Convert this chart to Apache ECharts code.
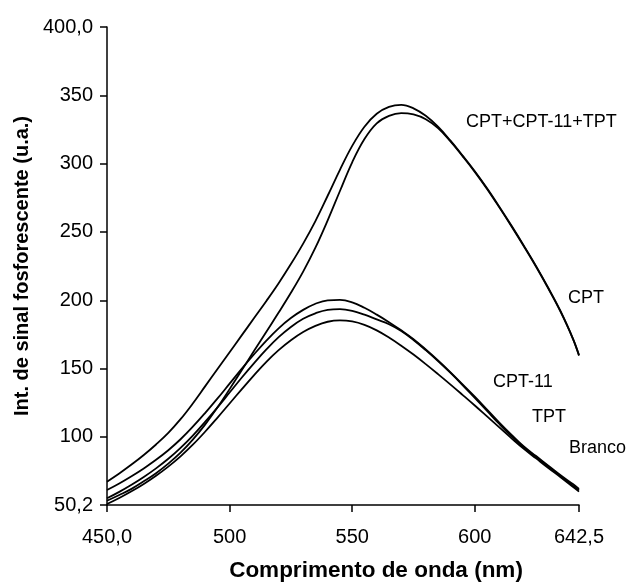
<!DOCTYPE html>
<html><head><meta charset="utf-8">
<script src="https://cdn.jsdelivr.net/npm/echarts@6/dist/echarts.min.js"></script>
<style>html,body{margin:0;padding:0;background:#fff}#c{width:627px;height:584px}</style>
</head><body><div id="c"></div>
<script>
const wavelengths = [450,455,460,465,470,475,480,485,490,495,500,505,510,515,520,525,530,535,540,545,550,555,560,565,570,575,580,585,590,595,600,605,610,615,620,625,630,635,640,642.5];
const cptMix = [67.3,73.3,79.8,86.8,94.5,103,113,124.5,137,149.5,162,174.5,187,199.5,212.5,226.5,241.5,258,276.5,295.5,313,327,336.5,341.5,343,340.5,335,327,317,306,294.5,282,268.5,254.5,240,225,209,192,172,160];
const cpt = [53.3,57.5,62,67.5,73.5,80.5,88.5,98,109,121.5,135,149,163,177,191,205.5,221,238.5,258.5,280,301,318,329.5,335,337,336,332.5,326,316.5,305.5,294,281.5,268,254,239.5,224.5,208.5,191.5,172,159.5];
const cpt11 = [61.2,66,71.3,77,83.3,90.3,98.3,107.5,117.5,128,139,150,160.5,170.5,179.5,187,193,197.5,200,200.3,198.5,194.5,189.5,184,178,171.5,164,156,147.5,138.5,129.5,120,110.5,101.5,93,86,79,72,65.5,62];
const tpt = [55.1,59.8,65,70.7,77,84,92,101,111,121.5,132.5,143.5,154,164,173,180.5,186.5,190.5,193,193.5,192.3,189.5,186,182.5,177.5,171,163.5,155.5,147,138,128.5,119,109.5,100.5,92.3,85.3,78.3,71.3,64.3,61];
const branco = [50.9,55.3,60.2,65.6,71.6,78.3,85.8,94.3,103.8,114,124.5,135,145.3,155,163.5,170.8,176.8,181.3,184.3,185.3,184.5,182,178,172.8,166.8,160.3,153.3,146,138.5,130.8,123,115,107,99,91.3,84.3,77.3,70.5,63.5,60];
const seriesNames = ['CPT+CPT-11+TPT','CPT','CPT-11','TPT','Branco'];
const xTickValues = [450,500,550,600,642.5];
const xTickLabels = ['450,0','500','550','600','642,5'];
const yTickValues = [50.2,100,150,200,250,300,350,400];
const yTickLabels = ['50,2','100','150','200','250','300','350','400,0'];
const xTitle = 'Comprimento de onda (nm)';
const yTitle = 'Int. de sinal fosforescente (u.a.)';

const FONT = "'Liberation Sans', Arial, sans-serif";
const chart = echarts.init(document.getElementById('c'), null, {renderer:'canvas'});
const allSeries = [cptMix, cpt, cpt11, tpt, branco];
const annotations = [
  {text: seriesNames[0], left: 466, top: 113},
  {text: seriesNames[1], left: 568, top: 289},
  {text: seriesNames[2], left: 493, top: 373},
  {text: seriesNames[3], left: 532, top: 408},
  {text: seriesNames[4], left: 569, top: 439}
];
chart.setOption({
  animation: false,
  backgroundColor: '#fff',
  grid: {left: 107, right: 48, top: 27, bottom: 79, containLabel: false, outerBoundsMode: 'none'},
  xAxis: {
    type: 'value', min: 450, max: 642.5,
    name: xTitle, nameLocation: 'middle', nameGap: 54,
    nameTextStyle: {fontFamily: FONT, fontWeight: 'bold', fontSize: 22.5, color: '#000', padding: [0,0,0,66]},
    axisLine: {lineStyle: {color: '#000', width: 1.5}},
    axisTick: {customValues: xTickValues, length: 7, lineStyle: {color: '#000', width: 1.5}},
    axisLabel: {customValues: xTickValues, formatter: v => xTickLabels[xTickValues.indexOf(v)], color: '#000', fontSize: 20, fontFamily: FONT, margin: 22},
    splitLine: {show: false}
  },
  yAxis: {
    type: 'value', min: 50.2, max: 400,
    name: yTitle, nameLocation: 'middle', nameGap: 75,
    nameTextStyle: {fontFamily: FONT, fontWeight: 'bold', fontSize: 20, color: '#000'},
    axisLine: {show: true, lineStyle: {color: '#000', width: 1.5}},
    axisTick: {show: true, customValues: yTickValues, length: 7, lineStyle: {color: '#000', width: 1.5}},
    axisLabel: {customValues: yTickValues, formatter: v => yTickLabels[yTickValues.indexOf(v)], color: '#000', fontSize: 20, fontFamily: FONT, margin: 14},
    splitLine: {show: false}
  },
  series: allSeries.map((vals, i) => ({
    name: seriesNames[i], type: 'line', smooth: 0.4, showSymbol: false,
    data: wavelengths.map((w, j) => [w, vals[j]]),
    lineStyle: {color: '#000', width: 1.8}
  })),
  graphic: annotations.map(a => ({
    type: 'text', left: a.left, top: a.top,
    style: {text: a.text, fill: '#000', font: '18px ' + FONT}
  }))
});
</script></body></html>
